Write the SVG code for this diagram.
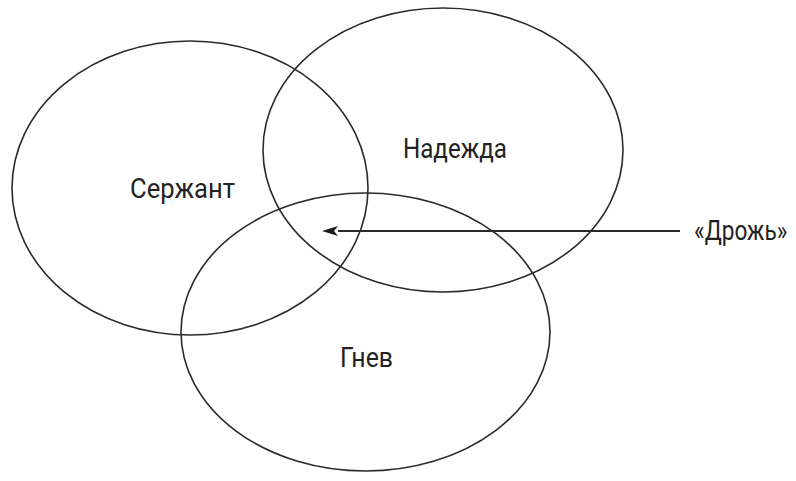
<svg xmlns="http://www.w3.org/2000/svg" width="796" height="481" viewBox="0 0 796 481">
<defs>
<style>
.set{fill:none;stroke:#2a2a2a;stroke-width:1.6}
.lbl{font-family:Roboto,"Liberation Sans",sans-serif;font-size:27px;fill:#222}
.conn{stroke:#2a2a2a;stroke-width:2;fill:none}
</style>
<marker id="ah" viewBox="0 0 16 10" refX="0" refY="5" markerWidth="16" markerHeight="10" markerUnits="userSpaceOnUse" orient="auto-start-reverse">
<path d="M0,0 L16,5 L0,10 L4,5 Z" fill="#1a1a1a"/>
</marker>
</defs>
<rect width="796" height="481" fill="#fff"/>
<g id="serzhant">
<ellipse class="set" cx="190" cy="188" rx="178" ry="147"/>
<text class="lbl" x="130" y="198" textLength="105" lengthAdjust="spacingAndGlyphs">Сержант</text>
</g>
<g id="nadezhda">
<ellipse class="set" cx="443" cy="150" rx="180" ry="142"/>
<text class="lbl" x="403" y="158" textLength="104" lengthAdjust="spacingAndGlyphs">Надежда</text>
</g>
<g id="gnev">
<ellipse class="set" cx="365.5" cy="332" rx="184.5" ry="139"/>
<text class="lbl" x="340" y="367" textLength="53" lengthAdjust="spacingAndGlyphs">Гнев</text>
</g>
<g id="connectors">
<line class="conn" x1="680" y1="231" x2="338" y2="231" marker-end="url(#ah)"/>
</g>
<g id="drozh">
<text class="lbl" transform="translate(694,240) scale(0.84,1)" x="0" y="0">«Дрожь»</text>
</g>
</svg>
